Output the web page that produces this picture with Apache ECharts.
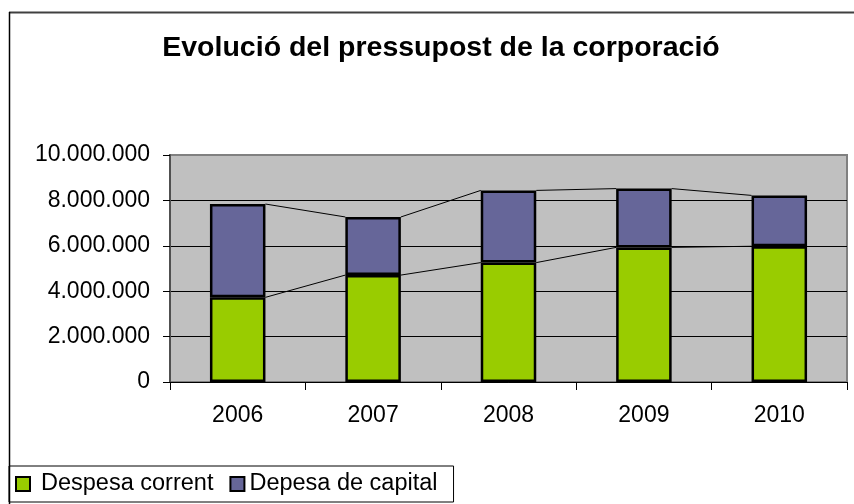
<!DOCTYPE html>
<html>
<head>
<meta charset="utf-8">
<script src="https://cdn.jsdelivr.net/npm/echarts@6/dist/echarts.min.js"></script>
<style>
  html, body { margin: 0; padding: 0; background: #fff; }
  #chart { width: 854px; height: 504px; }
</style>
</head>
<body>
<div id="chart"></div>
<script>
// dades llegides del gràfic
var years = ['2006', '2007', '2008', '2009', '2010'];
var corrent = [3730000, 4710000, 5260000, 5930000, 5980000];
var capital = [4110000, 2560000, 3180000, 2590000, 2240000];
var yTicks = [0, 2000000, 4000000, 6000000, 8000000, 10000000];

var BAR_FRAC = 0.41;
var font = '"Liberation Sans", Arial, sans-serif';

function fmt(v) {
  return String(v).replace(/\B(?=(\d{3})+(?!\d))/g, '.');
}

// punts per a les línies de sèrie (entre barres)
var linkData = years.map(function (y, i) {
  var j = Math.min(i + 1, years.length - 1);
  return [i, corrent[i], corrent[j], corrent[i] + capital[i], corrent[j] + capital[j]];
});

var chart = echarts.init(document.getElementById('chart'));
var option = {
  backgroundColor: '#fff',
  animation: false,
  title: {
    text: 'Evolució del pressupost de la corporació',
    left: 436,
    top: 29,
    textAlign: 'center',
    textStyle: { fontFamily: font, fontWeight: 'bold', fontSize: 28.5, color: '#000' }
  },
  legend: {
    data: ['Despesa corrent', 'Depesa de capital'],
    left: 9,
    top: 466,
    orient: 'horizontal',
    borderColor: '#000',
    borderWidth: 1,
    padding: [6, 16, 6, 6],
    itemGap: 16,
    itemWidth: 14,
    itemHeight: 14,
    icon: 'rect',
    formatter: function (name) {
      return name === 'Despesa corrent' ? '{a|' + name + '}' : '{b|' + name + '}';
    },
    textStyle: {
      fontFamily: font, fontSize: 23.5, color: '#000',
      rich: {
        a: { fontFamily: font, fontSize: 23.5, color: '#000', padding: [0, 0, 0, 6] },
        b: { fontFamily: font, fontSize: 23.5, color: '#000', padding: [0, 0, 0, 0] }
      }
    }
  },
  grid: {
    left: 170,
    right: 7,
    top: 155,
    bottom: 122,
    show: true,
    backgroundColor: '#C0C0C0',
    borderColor: '#808080',
    borderWidth: 2
  },
  xAxis: {
    type: 'category',
    data: years,
    axisLine: { lineStyle: { color: '#000', width: 1 } },
    axisTick: { show: true, length: 8, lineStyle: { color: '#000' } },
    axisLabel: { margin: 22, color: '#000', fontFamily: font, fontSize: 23 },
    splitLine: { show: false }
  },
  yAxis: {
    type: 'value',
    min: yTicks[0],
    max: yTicks[yTicks.length - 1],
    interval: 2000000,
    axisLine: { show: true, lineStyle: { color: '#505050', width: 2 } },
    axisTick: { show: true, length: 7, lineStyle: { color: '#000' } },
    axisLabel: { margin: 20, color: '#000', fontFamily: font, fontSize: 23, formatter: fmt },
    splitLine: { lineStyle: { color: ['#000', '#000', '#000', '#000', '#000', '#808080'], width: 1 } }
  },
  series: [
    {
      name: 'Despesa corrent',
      type: 'bar',
      stack: 'total',
      barWidth: (BAR_FRAC * 100) + '%',
      itemStyle: { color: '#99CC00', borderColor: '#000', borderWidth: 2.5 },
      data: corrent
    },
    {
      name: 'Depesa de capital',
      type: 'bar',
      stack: 'total',
      barWidth: (BAR_FRAC * 100) + '%',
      itemStyle: { color: '#666699', borderColor: '#000', borderWidth: 2.5 },
      data: capital
    },
    {
      // línies de sèrie
      type: 'custom',
      silent: true,
      z: 5,
      encode: { x: 0, y: 1 },
      data: linkData,
      renderItem: function (params, api) {
        var i = api.value(0);
        if (i >= years.length - 1) return;
        var half = api.size([1, 0])[0] * BAR_FRAC / 2;
        var a = api.coord([i, api.value(1)]);
        var b = api.coord([i + 1, api.value(2)]);
        var c = api.coord([i, api.value(3)]);
        var d = api.coord([i + 1, api.value(4)]);
        var st = { stroke: '#000', lineWidth: 1 };
        return {
          type: 'group',
          children: [
            { type: 'line', shape: { x1: a[0] + half, y1: a[1], x2: b[0] - half, y2: b[1] }, style: st },
            { type: 'line', shape: { x1: c[0] + half, y1: c[1], x2: d[0] - half, y2: d[1] }, style: st }
          ]
        };
      }
    }
  ],
  graphic: [
    { type: 'line', shape: { x1: 9, y1: 12.5, x2: 854, y2: 12.5 }, style: { stroke: '#404040', lineWidth: 2 } },
    { type: 'line', shape: { x1: 9.5, y1: 12, x2: 9.5, y2: 504 }, style: { stroke: '#000', lineWidth: 1.5 } }
  ]
};
chart.setOption(option);
window.addEventListener('resize', function () { chart.resize(); });
</script>
</body>
</html>
